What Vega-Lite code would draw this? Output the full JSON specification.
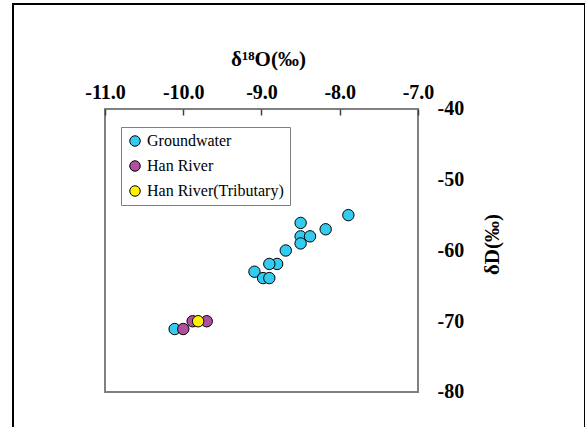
{
  "$schema": "https://vega.github.io/schema/vega-lite/v6.json",
  "width": 572,
  "height": 440,
  "padding": {"left": 13, "top": 4, "right": 0, "bottom": 0},
  "autosize": {"type": "none"},
  "background": "white",
  "config": {
    "view": {"stroke": "black", "strokeWidth": 2},
    "font": "Liberation Serif"
  },
  "data": {
    "values": [
      {"type": "Groundwater", "d18O": -7.89, "dD": -55.0},
      {"type": "Groundwater", "d18O": -8.50, "dD": -56.1},
      {"type": "Groundwater", "d18O": -8.18, "dD": -57.0},
      {"type": "Groundwater", "d18O": -8.50, "dD": -58.0},
      {"type": "Groundwater", "d18O": -8.38, "dD": -58.0},
      {"type": "Groundwater", "d18O": -8.50, "dD": -59.0},
      {"type": "Groundwater", "d18O": -8.69, "dD": -60.0},
      {"type": "Groundwater", "d18O": -8.80, "dD": -61.9},
      {"type": "Groundwater", "d18O": -8.90, "dD": -61.9},
      {"type": "Groundwater", "d18O": -9.09, "dD": -63.0},
      {"type": "Groundwater", "d18O": -8.98, "dD": -63.9},
      {"type": "Groundwater", "d18O": -8.90, "dD": -63.9},
      {"type": "Groundwater", "d18O": -10.11, "dD": -71.1},
      {"type": "Han River", "d18O": -10.00, "dD": -71.1},
      {"type": "Han River", "d18O": -9.88, "dD": -70.0},
      {"type": "Han River", "d18O": -9.70, "dD": -70.0},
      {"type": "Han River(Tributary)", "d18O": -9.81, "dD": -70.0}
    ]
  },
  "layer": [
    {
      "data": {"values": [{}]},
      "mark": {"type": "rect", "fill": "white", "fillOpacity": 0, "stroke": "#808080", "strokeWidth": 2},
      "encoding": {
        "x": {
          "datum": -11,
          "type": "quantitative",
          "scale": {"domain": [-12.1757, -4.8658], "nice": false, "zero": false},
          "axis": null
        },
        "x2": {"datum": -7},
        "y": {
          "datum": -80,
          "type": "quantitative",
          "scale": {"domain": [-87.35, -25.159], "nice": false, "zero": false},
          "axis": null
        },
        "y2": {"datum": -40}
      }
    },
    {
      "mark": {"type": "circle", "size": 130, "stroke": "black", "strokeWidth": 1, "opacity": 1},
      "encoding": {
        "x": {
          "field": "d18O",
          "type": "quantitative",
          "scale": {"domain": [-12.1757, -4.8658], "nice": false, "zero": false},
          "axis": {
            "orient": "top",
            "offset": -105,
            "values": [-11, -10, -9, -8, -7],
            "labelExpr": "replace(format(datum.value, '.1f'), '−', '-')",
            "ticks": true,
            "tickSize": -6,
            "tickColor": "#404040",
            "tickWidth": 1.5,
            "domain": false,
            "grid": false,
            "labelPadding": 17,
            "labelBaseline": "alphabetic",
            "labelAlign": "center",
            "labelFont": "Liberation Serif",
            "labelFontWeight": "bold",
            "labelFontSize": 20,
            "labelColor": "black",
            "labelFlush": false,
            "labelOverlap": false,
            "zindex": 1,
            "title": "δ¹⁸O(‰)",
            "titleX": 255,
            "titleY": -44,
            "titleBaseline": "alphabetic",
            "titleAlign": "center",
            "titleFont": "Liberation Serif",
            "titleFontSize": 21,
            "titleFontWeight": "bold",
            "titleColor": "black"
          }
        },
        "y": {
          "field": "dD",
          "type": "quantitative",
          "scale": {"domain": [-87.35, -25.159], "nice": false, "zero": false},
          "axis": {
            "orient": "right",
            "offset": -167,
            "values": [-40, -50, -60, -70, -80],
            "labelExpr": "'' + datum.value",
            "ticks": false,
            "tickSize": 0,
            "domain": false,
            "grid": false,
            "labelPadding": 19,
            "labelAlign": "left",
            "labelBaseline": "middle",
            "labelFont": "Liberation Serif",
            "labelFontWeight": "bold",
            "labelFontSize": 20,
            "labelColor": "black",
            "labelFlush": false,
            "labelOverlap": false,
            "zindex": 1,
            "title": "δD(‰)",
            "titleAngle": 270,
            "titleX": 74,
            "titleY": 240,
            "titleBaseline": "middle",
            "titleAlign": "center",
            "titleFont": "Liberation Serif",
            "titleFontSize": 21,
            "titleFontWeight": "bold",
            "titleColor": "black"
          }
        },
        "color": {
          "field": "type",
          "type": "nominal",
          "scale": {
            "domain": ["Groundwater", "Han River", "Han River(Tributary)"],
            "range": ["#33CCF0", "#B04F9E", "#FFF200"]
          },
          "legend": {
            "orient": "none",
            "legendX": 108,
            "legendY": 123,
            "title": null,
            "strokeColor": "#808080",
            "fillColor": "white",
            "padding": 6,
            "symbolType": "circle",
            "symbolSize": 110,
            "symbolStrokeColor": "black",
            "symbolStrokeWidth": 1,
            "symbolOpacity": 1,
            "labelFont": "Liberation Serif",
            "labelFontSize": 16,
            "labelColor": "black",
            "labelOffset": 4,
            "rowPadding": 9,
            "labelLimit": 300
          }
        }
      }
    }
  ],
  "resolve": {"axis": {"x": "independent", "y": "independent"}}
}
